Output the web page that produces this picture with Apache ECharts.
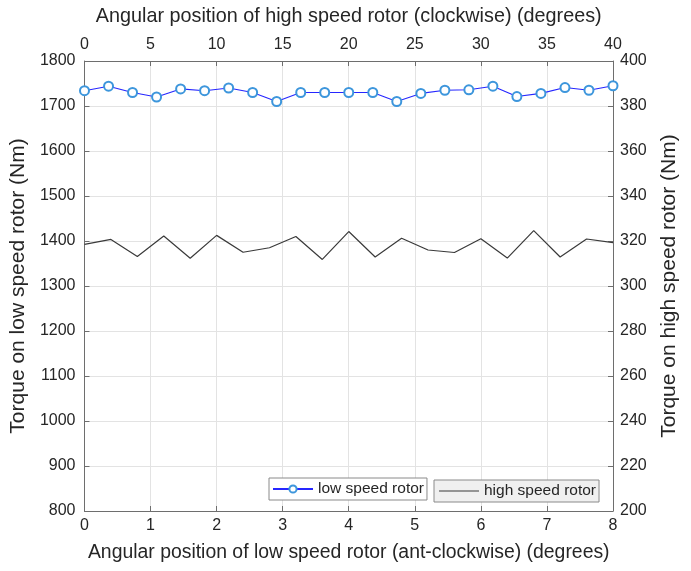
<!DOCTYPE html>
<html>
<head>
<meta charset="utf-8">
<script src="https://cdn.jsdelivr.net/npm/echarts@6/dist/echarts.min.js"></script>
<style>html,body{margin:0;padding:0;background:#fff}#c{width:691px;height:571px}</style>
</head>
<body>
<div id="c"></div>
<script>
// Low speed rotor: angle (deg, bottom axis) and torque (Nm, left axis)
var lowAngle = [0, 0.364, 0.727, 1.091, 1.455, 1.818, 2.182, 2.545, 2.909, 3.273, 3.636, 4, 4.364, 4.727, 5.091, 5.455, 5.818, 6.182, 6.545, 6.909, 7.273, 7.636, 8];
var lowTorque = [1734, 1744, 1730, 1720, 1738, 1734, 1740, 1730, 1710, 1730, 1730, 1730, 1730, 1710, 1728, 1735, 1736, 1744, 1721, 1728, 1741, 1735, 1745];
// High speed rotor: angle (deg, top axis) and torque (Nm, right axis)
var highAngle = [0, 2, 4, 6, 8, 10, 12, 14, 16, 18, 20, 22, 24, 26, 28, 30, 32, 34, 36, 38, 40];
var highTorque = [318.5, 320.7, 313.1, 322.2, 312.3, 322.5, 315, 317, 322, 311.8, 324.2, 312.9, 321.2, 316, 314.9, 321, 312.4, 324.6, 312.9, 320.9, 319.3];

var font = 'Liberation Sans, Arial, Helvetica, sans-serif';
var txt = '#262626';
var axisCol = '#6e6e6e';
var gridCol = '#e3e3e3';

function pairs(xs, ys) { return xs.map(function (x, i) { return [x, ys[i]]; }); }
function plain(v) { return String(v); }

var chart = echarts.init(document.getElementById('c'), null, {renderer: 'canvas'});
chart.setOption({
  animation: false,
  backgroundColor: '#ffffff',
  grid: {left: 84, right: 78, top: 61, bottom: 60, containLabel: false},
  legend: [
    {
      data: ['low speed rotor'], left: 269, top: 478,
      orient: 'horizontal', itemWidth: 40, itemHeight: 9, itemGap: 4,
      padding: [3, 3, 3, 3], borderColor: '#8a8a8a', borderWidth: 1, backgroundColor: '#ffffff',
      textStyle: {fontFamily: font, fontSize: 15.5, color: txt}
    },
    {
      data: [{name: 'high speed rotor', icon: 'rect'}], left: 434, top: 480,
      orient: 'horizontal', itemWidth: 40, itemHeight: 1.2, itemGap: 4,
      padding: [3, 3, 3, 5], borderColor: '#8a8a8a', borderWidth: 1, backgroundColor: '#f0f0f0',
      textStyle: {fontFamily: font, fontSize: 15.5, color: txt}
    }
  ],
  xAxis: [
    {
      type: 'value', position: 'bottom', min: 0, max: 8, interval: 1,
      name: 'Angular position of low speed rotor (ant-clockwise) (degrees)',
      nameLocation: 'middle', nameGap: 32,
      nameTextStyle: {fontFamily: font, fontSize: 19.4, color: txt},
      axisLine: {show: true, onZero: false, lineStyle: {color: axisCol, width: 1}},
      axisTick: {show: true, inside: true, length: 5, lineStyle: {color: axisCol}},
      axisLabel: {fontFamily: font, fontSize: 16, color: txt, margin: 7, formatter: plain},
      splitLine: {show: true, lineStyle: {color: gridCol, width: 1}}
    },
    {
      type: 'value', position: 'top', min: 0, max: 40, interval: 5,
      name: 'Angular position of high speed rotor (clockwise) (degrees)',
      nameLocation: 'middle', nameGap: 34,
      nameTextStyle: {fontFamily: font, fontSize: 19.8, color: txt},
      axisLine: {show: true, onZero: false, lineStyle: {color: axisCol, width: 1}},
      axisTick: {show: true, inside: true, length: 5, lineStyle: {color: axisCol}},
      axisLabel: {fontFamily: font, fontSize: 16, color: txt, margin: 8, formatter: plain},
      splitLine: {show: false}
    }
  ],
  yAxis: [
    {
      type: 'value', position: 'left', min: 800, max: 1800, interval: 100,
      name: 'Torque on low speed rotor (Nm)',
      nameLocation: 'middle', nameGap: 48,
      nameTextStyle: {fontFamily: font, fontSize: 21, color: txt},
      axisLine: {show: true, onZero: false, lineStyle: {color: axisCol, width: 1}},
      axisTick: {show: true, inside: true, length: 5, lineStyle: {color: axisCol}},
      axisLabel: {fontFamily: font, fontSize: 16, color: txt, margin: 9, formatter: plain},
      splitLine: {show: true, lineStyle: {color: gridCol, width: 1}}
    },
    {
      type: 'value', position: 'right', min: 200, max: 400, interval: 20,
      name: 'Torque on high speed rotor (Nm)',
      nameLocation: 'middle', nameGap: 46,
      nameTextStyle: {fontFamily: font, fontSize: 21, color: txt},
      axisLine: {show: true, onZero: false, lineStyle: {color: axisCol, width: 1}},
      axisTick: {show: true, inside: true, length: 5, lineStyle: {color: axisCol}},
      axisLabel: {fontFamily: font, fontSize: 16, color: txt, margin: 7, formatter: plain},
      splitLine: {show: false}
    }
  ],
  series: [
    {
      name: 'low speed rotor', type: 'line', xAxisIndex: 0, yAxisIndex: 0,
      data: pairs(lowAngle, lowTorque),
      symbol: 'emptyCircle', symbolSize: 9, showSymbol: true,
      lineStyle: {color: '#2626ff', width: 1.1},
      itemStyle: {color: '#3d96dc', borderColor: '#3d96dc', borderWidth: 1.3},
      z: 3
    },
    {
      name: 'high speed rotor', type: 'line', xAxisIndex: 1, yAxisIndex: 1,
      data: pairs(highAngle, highTorque),
      symbol: 'none', showSymbol: false,
      lineStyle: {color: '#3a3a3a', width: 1.2},
      itemStyle: {color: '#3a3a3a'},
      z: 2
    }
  ]
});
</script>
</body>
</html>
